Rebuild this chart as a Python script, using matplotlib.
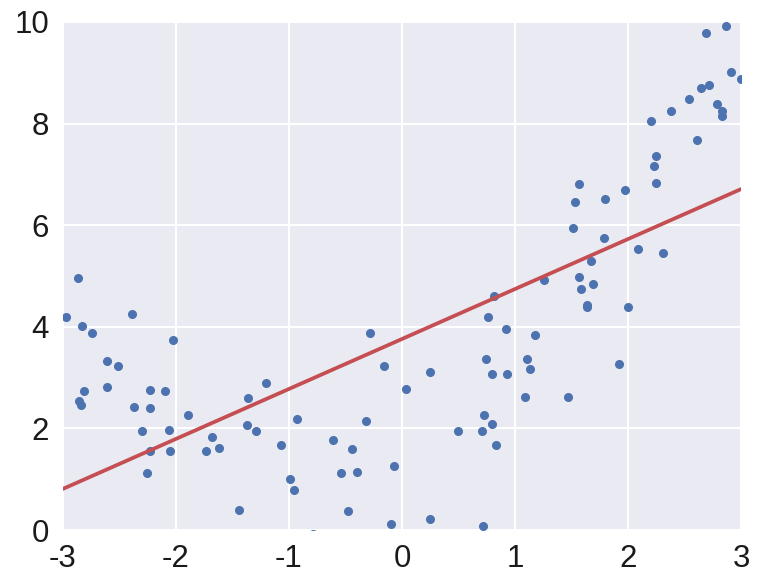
import matplotlib
matplotlib.use("Agg")
import matplotlib.pyplot as plt
import seaborn as sns
import numpy as np

x_vals = [-2.97, -2.87, -2.83, -2.74, -2.81, -2.86, -2.84, -2.61, -2.51, -2.61,
          -2.39, -2.37, -2.30, -2.23, -2.23, -2.23, -2.26, -2.10, -2.03, -2.06,
          -2.05, -1.89, -1.68, -1.73, -1.62, -1.44, -1.36, -1.37, -1.29, -1.20,
          -1.07, -0.99, -0.96, -0.93, -0.61, -0.54, -0.44, -0.48, -0.40, -0.32,
          -0.28, -0.16, -0.10, -0.07, 0.04, 0.25, 0.25, 0.50, 0.71, 0.73,
          0.72, 0.74, 0.76, 0.80, 0.80, 0.81, 0.83, 0.92, 0.93, 1.09,
          1.11, 1.13, 1.18, 1.26, 1.47, 1.51, 1.53, 1.57, 1.57, 1.58,
          1.64, 1.64, 1.67, 1.69, 1.79, 1.80, 1.92, 1.97, 2.00, 2.09,
          2.20, 2.23, 2.25, 2.25, 2.31, 2.38, 2.54, 2.61, 2.65, 2.69,
          2.72, 2.79, 2.83, 2.83, 2.87, 2.91, 3.00, -0.79]
y_vals = [4.20, 4.96, 4.01, 3.88, 2.73, 2.53, 2.46, 3.33, 3.22, 2.81,
          4.25, 2.43, 1.94, 2.75, 2.40, 1.56, 1.12, 2.73, 3.74, 1.97,
          1.56, 2.26, 1.84, 1.56, 1.62, 0.39, 2.59, 2.06, 1.94, 2.89,
          1.67, 1.01, 0.78, 2.19, 1.78, 1.12, 1.59, 0.37, 1.15, 2.14,
          3.88, 3.22, 0.12, 1.26, 2.78, 3.11, 0.21, 1.94, 1.94, 2.27,
          0.07, 3.36, 4.20, 2.08, 3.08, 4.61, 1.67, 3.95, 3.08, 2.62,
          3.36, 3.16, 3.84, 4.93, 2.62, 5.94, 6.45, 6.81, 4.99, 4.74,
          4.43, 4.39, 5.29, 4.85, 5.75, 6.51, 3.27, 6.70, 4.39, 5.53,
          8.06, 7.16, 7.36, 6.84, 5.45, 8.25, 8.49, 7.67, 8.71, 9.79,
          8.76, 8.38, 8.25, 8.14, 9.93, 9.01, 8.87, -0.08]

line_x = [-3, 3]
line_y = [0.81, 6.71]

x_ticks = [-3, -2, -1, 0, 1, 2, 3]
y_ticks = [0, 2, 4, 6, 8, 10]

sns.set_theme(style="darkgrid")
plt.rcParams['font.family'] = ['Liberation Sans', 'DejaVu Sans']
plt.rcParams['axes.unicode_minus'] = False

fig = plt.figure(figsize=(7.7, 5.83), dpi=100)
ax = fig.add_axes([0.0818, 0.0909, 0.8805, 0.8714])
ax.plot(x_vals, y_vals, 'o', color='#4c72b0', markersize=5.5, clip_on=True)
ax.plot(line_x, line_y, '-', color='#c44e52', linewidth=2.7)
ax.set_xlim(-3, 3)
ax.set_ylim(0, 10)
ax.set_xticks(x_ticks)
ax.set_yticks(y_ticks)
ax.tick_params(labelsize=22.5, colors='#1a1a1a', pad=4)
ax.grid(True, color='white', linewidth=1.5)
for s in ax.spines.values():
    s.set_visible(False)
fig.savefig("out.png", dpi=100)
